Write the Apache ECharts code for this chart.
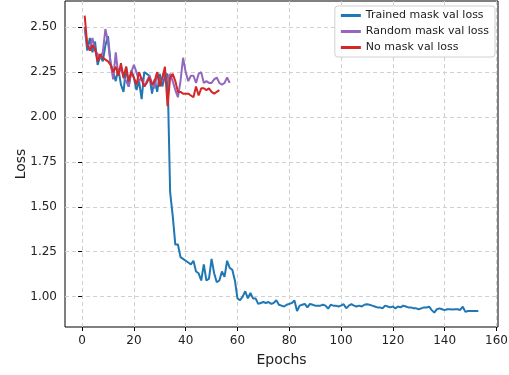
<!DOCTYPE html>
<html>
<head>
<meta charset="utf-8">
<script src="https://cdn.jsdelivr.net/npm/echarts@6/dist/echarts.min.js"></script>
<style>
  html, body { margin: 0; padding: 0; background: #fff; }
  #chart { width: 509px; height: 375px; }
</style>
</head>
<body>
<div id="chart"></div>
<script>
// validation loss per epoch
const trainedMask = [
  2.50, 2.37, 2.44, 2.36, 2.42, 2.29, 2.34, 2.31, 2.40, 2.45,
  2.30, 2.25, 2.20, 2.27, 2.18, 2.14, 2.28, 2.17, 2.26, 2.22,
  2.15, 2.20, 2.10, 2.25, 2.24, 2.23, 2.13, 2.21, 2.14, 2.24,
  2.17, 2.23, 2.24,
  1.58, 1.45, 1.29, 1.29, 1.22, 1.21, 1.20,
  1.19, 1.18, 1.20, 1.14, 1.13, 1.09, 1.18, 1.09, 1.10, 1.21,
  1.13, 1.08, 1.09, 1.14, 1.11, 1.20, 1.16, 1.15, 1.09, 0.99,
  0.98, 1.00, 1.03, 0.99, 1.02, 0.99, 0.99, 0.96, 0.965, 0.97,
  0.965, 0.97, 0.96, 0.965, 0.98, 0.955, 0.95, 0.945, 0.955, 0.96,
  0.965, 0.978, 0.92, 0.95, 0.955, 0.96, 0.94, 0.96, 0.955, 0.95,
  0.95, 0.95, 0.955, 0.95, 0.933, 0.955, 0.95, 0.95, 0.945, 0.95,
  0.958, 0.935, 0.95, 0.958, 0.95, 0.945, 0.95, 0.945, 0.955, 0.958,
  0.955, 0.95, 0.945, 0.94, 0.94, 0.935, 0.95, 0.945, 0.94, 0.945,
  0.935, 0.945, 0.94, 0.95, 0.945, 0.94, 0.94, 0.935, 0.935, 0.93,
  0.935, 0.94, 0.94, 0.944, 0.925, 0.911, 0.93, 0.935, 0.93, 0.925,
  0.93, 0.93, 0.928, 0.93, 0.93, 0.926, 0.944, 0.915, 0.92, 0.92,
  0.92, 0.92, 0.92
]
const randomMask = [
  2.50, 2.40, 2.38, 2.44, 2.37, 2.35, 2.33, 2.36, 2.49, 2.42,
  2.30, 2.21, 2.36, 2.23, 2.28, 2.22, 2.20, 2.17, 2.25, 2.29,
  2.25, 2.20, 2.22, 2.17, 2.20, 2.23, 2.19, 2.16, 2.25, 2.18,
  2.22, 2.25, 2.20, 2.24, 2.20, 2.15, 2.11, 2.20, 2.33, 2.25,
  2.20, 2.23, 2.23, 2.19, 2.24, 2.25, 2.19, 2.20, 2.19, 2.19,
  2.21, 2.22, 2.19, 2.18, 2.19, 2.22, 2.19
]
const noMask = [
  2.565, 2.40, 2.37, 2.40, 2.38, 2.31, 2.35, 2.33, 2.32, 2.31,
  2.29, 2.25, 2.28, 2.23, 2.30, 2.22, 2.28, 2.20, 2.25, 2.22,
  2.18, 2.25, 2.21, 2.17, 2.19, 2.22, 2.18, 2.20, 2.25, 2.17,
  2.22, 2.28, 2.06, 2.22, 2.24, 2.20, 2.14, 2.14, 2.13, 2.13,
  2.13, 2.12, 2.11, 2.17, 2.12, 2.16, 2.16, 2.15, 2.16, 2.14,
  2.13, 2.14, 2.15
]
const xTicks = [0, 20, 40, 60, 80, 100, 120, 140, 160]
const yTicks = [1.00, 1.25, 1.50, 1.75, 2.00, 2.25, 2.50]

const seriesNames = ['Trained mask val loss', 'Random mask val loss', 'No mask val loss']
const seriesColors = ['#1f77b4', '#9467bd', '#d62728']

// epochs start at 1
const toPoints = arr => arr.map((v, i) => [i + 1, v])

const chart = echarts.init(document.getElementById('chart'))
const font = 'DejaVu Sans'

const options = {
  animation: false,
  textStyle: { fontFamily: font },
  grid: {
    left: 65, right: 11, top: 1, bottom: 48,
    outerBoundsMode: 'none',
    show: true, borderColor: '#000', borderWidth: 1
  },
  legend: {
    orient: 'vertical',
    right: 14, top: 6,
    data: seriesNames,
    icon: 'rect',
    itemWidth: 20, itemHeight: 3,
    itemGap: 5,
    padding: [4, 6, 4, 6],
    borderColor: '#d0d0d0', borderWidth: 1, borderRadius: 3,
    backgroundColor: 'rgba(255,255,255,0.85)',
    textStyle: { fontFamily: font, fontSize: 11, color: '#222' }
  },
  xAxis: {
    type: 'value',
    min: -6.6, max: 160.6,
    name: 'Epochs', nameLocation: 'middle', nameGap: 26,
    nameMoveOverlap: false,
    nameTextStyle: { fontFamily: font, fontSize: 14, color: '#222' },
    axisLine: { show: false },
    axisTick: { show: true, length: 4, lineStyle: { color: '#000' }, customValues: xTicks },
    axisLabel: { fontSize: 12, color: '#222', margin: 8, customValues: xTicks },
    splitLine: { show: true, lineStyle: { type: [4, 3], color: '#d0d0d0', width: 1 } }
  },
  yAxis: {
    type: 'value',
    min: 0.831, max: 2.646,
    name: 'Loss', nameLocation: 'middle', nameGap: 37,
    nameMoveOverlap: false,
    nameTextStyle: { fontFamily: font, fontSize: 14, color: '#222' },
    axisLine: { show: false },
    axisTick: { show: true, length: 4, lineStyle: { color: '#000' }, customValues: yTicks },
    axisLabel: {
      fontSize: 12, color: '#222', margin: 8, customValues: yTicks,
      formatter: v => v.toFixed(2)
    },
    splitLine: { show: true, lineStyle: { type: [4, 3], color: '#d0d0d0', width: 1 } }
  },
  series: [trainedMask, randomMask, noMask].map((arr, k) => ({
    name: seriesNames[k],
    type: 'line',
    data: toPoints(arr),
    showSymbol: false,
    color: seriesColors[k],
    lineStyle: { width: 2, color: seriesColors[k] },
    z: 3 + k
  }))
}

chart.setOption(options)
</script>
</body>
</html>
